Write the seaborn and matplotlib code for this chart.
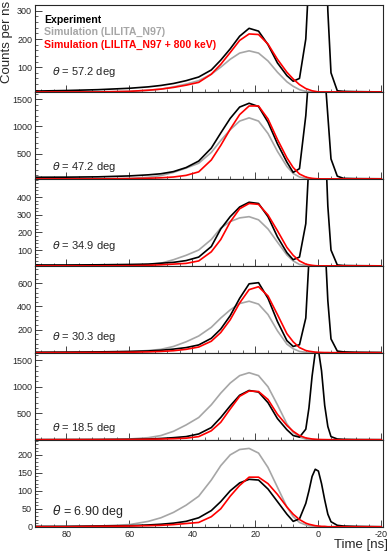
import numpy as np
import pandas as pd
import seaborn as sns
import matplotlib.pyplot as plt
from matplotlib.ticker import MultipleLocator

# time bins (ns)
time_ns = [90, 80, 70, 60, 54, 50, 46, 42, 38, 34, 31, 28, 25, 22, 19, 16, 13, 10, 8, 6,
           4, 3, 2, 1, 0, -1, -2, -3, -4, -6, -8, -12, -20]

angles = ["57.2", "47.2", "34.9", "30.3", "18.5", "6.90"]

# theta = 57.2 deg
exp_57 = [15, 17, 20, 25, 30, 35, 42, 52, 65, 90, 125, 165, 210, 238, 228, 180, 115, 70, 50, 60,
          200, 420, 800, 1000, 1000, 900, 700, 300, 80, 16, 14, 13, 12]
sim_57 = [12, 12, 12, 14, 18, 22, 30, 40, 52, 75, 100, 128, 150, 158, 150, 122, 82, 48, 32, 20,
          14, 13, 12, 12, 12, 12, 12, 12, 12, 12, 12, 12, 12]
sim800_57 = [12, 12, 12, 14, 18, 22, 28, 36, 46, 75, 110, 152, 195, 218, 216, 182, 128, 82, 58, 38,
             24, 20, 16, 14, 12, 12, 12, 12, 12, 12, 12, 12, 12]

# theta = 47.2 deg
exp_47 = [60, 62, 68, 85, 105, 125, 165, 240, 360, 600, 880, 1150, 1360, 1430, 1370, 1080, 680, 340, 150, 220,
          1200, 2000, 2600, 2800, 2800, 2600, 2000, 1200, 400, 80, 40, 35, 32]
sim_47 = [30, 30, 32, 40, 60, 90, 150, 230, 320, 520, 740, 940, 1100, 1160, 1100, 870, 540, 260, 130, 65,
          38, 34, 32, 30, 30, 30, 30, 30, 30, 30, 30, 30, 30]
sim800_47 = [30, 30, 30, 35, 42, 50, 65, 95, 160, 380, 650, 950, 1220, 1380, 1380, 1140, 760, 420, 240, 120,
             65, 50, 40, 35, 32, 30, 30, 30, 30, 30, 30, 30, 30]

# theta = 34.9 deg
exp_35 = [15, 15, 16, 18, 20, 25, 30, 40, 60, 120, 220, 290, 345, 372, 365, 290, 175, 85, 45, 60,
          250, 600, 1000, 1200, 1200, 1100, 800, 350, 100, 15, 12, 11, 10]
sim_35 = [10, 10, 10, 12, 18, 25, 45, 70, 100, 160, 225, 262, 283, 290, 272, 220, 145, 72, 38, 18,
          12, 11, 10, 10, 10, 10, 10, 10, 10, 10, 10, 10, 10]
sim800_35 = [10, 10, 10, 11, 13, 16, 20, 24, 38, 90, 160, 260, 335, 365, 360, 300, 210, 115, 70, 38,
             20, 16, 13, 11, 10, 10, 10, 10, 10, 10, 10, 10, 10]

# theta = 30.3 deg
exp_30 = [5, 6, 8, 12, 16, 22, 32, 45, 68, 125, 205, 320, 470, 595, 605, 470, 270, 105, 55, 70,
          300, 800, 1400, 1700, 1700, 1500, 1000, 450, 120, 15, 8, 5, 3]
sim_30 = [2, 3, 5, 10, 20, 30, 55, 95, 145, 220, 300, 370, 425, 445, 420, 330, 190, 75, 35, 12,
          5, 3, 2, 2, 2, 1, 1, 1, 1, 1, 1, 1, 1]
sim800_30 = [1, 2, 3, 5, 8, 12, 18, 30, 50, 100, 175, 285, 430, 545, 570, 490, 330, 165, 95, 45,
             20, 14, 10, 6, 4, 3, 2, 2, 1, 1, 1, 1, 1]

# theta = 18.5 deg
exp_18 = [3, 4, 5, 8, 15, 25, 40, 60, 110, 230, 420, 640, 840, 930, 900, 700, 400, 190, 80, 50,
          200, 600, 1200, 1650, 1700, 1300, 650, 250, 60, 15, 8, 4, 2]
sim_18 = [2, 3, 5, 15, 40, 80, 160, 280, 420, 660, 880, 1070, 1210, 1265, 1210, 1000, 660, 300, 140, 50,
          15, 8, 5, 3, 2, 1, 1, 1, 1, 1, 1, 1, 1]
sim800_18 = [1, 2, 3, 5, 10, 14, 20, 30, 60, 170, 330, 580, 820, 920, 910, 760, 480, 270, 160, 80,
             35, 25, 15, 10, 6, 4, 3, 2, 2, 1, 1, 1, 1]

# theta = 6.90 deg
exp_7 = [1, 1, 2, 3, 5, 7, 10, 15, 25, 45, 70, 100, 122, 132, 130, 105, 70, 35, 15, 22,
         65, 100, 140, 160, 155, 120, 75, 35, 14, 4, 2, 1, 0]
sim_7 = [0, 1, 2, 6, 15, 25, 40, 60, 85, 130, 170, 200, 215, 218, 205, 165, 110, 55, 28, 12,
         5, 3, 2, 1, 1, 0, 0, 0, 0, 0, 0, 0, 0]
sim800_7 = [0, 0, 1, 2, 3, 4, 6, 9, 12, 28, 50, 85, 115, 138, 138, 120, 90, 55, 35, 20,
            10, 7, 5, 3, 2, 1, 1, 0, 0, 0, 0, 0, 0]

panels = [
    (exp_57, sim_57, sim800_57),
    (exp_47, sim_47, sim800_47),
    (exp_35, sim_35, sim800_35),
    (exp_30, sim_30, sim800_30),
    (exp_18, sim_18, sim800_18),
    (exp_7, sim_7, sim800_7),
]

# layout of each pad
ylims = [(12, 321), (30, 1640), (10, 505), (0, 750), (0, 1640), (0, 242)]
yticks = [[100, 200, 300], [500, 1000, 1500], [100, 200, 300, 400], [200, 400, 600],
          [500, 1000, 1500], [0, 50, 100, 150, 200]]
yminor = [20, 100, 20, 40, 100, 10]
label_y = [0.23, 0.14, 0.23, 0.18, 0.14, 0.18]
label_size = [8, 8, 8, 8, 8, 9]

sns.set_theme(style="ticks")
plt.rcParams['font.family'] = ['Liberation Sans', 'DejaVu Sans']
plt.rcParams['mathtext.fontset'] = 'dejavusans'

palette = {"sim": "#a6a6a6", "exp": "#000000", "sim800": "#ff0000"}

fig, axes = plt.subplots(6, 1, figsize=(3.88, 5.51), dpi=100, sharex=True)
fig.subplots_adjust(left=0.09, right=0.987, top=0.991, bottom=0.044, hspace=0)

for i, ax in enumerate(axes):
    e, s, r = panels[i]
    df = pd.DataFrame({
        "time": time_ns * 3,
        "counts": s + e + r,
        "series": ["sim"] * len(time_ns) + ["exp"] * len(time_ns) + ["sim800"] * len(time_ns),
    })
    sns.lineplot(data=df, x="time", y="counts", hue="series", palette=palette,
                 hue_order=["sim", "exp", "sim800"], linewidth=1.2, legend=False,
                 sort=False, estimator=None, ax=ax)
    ax.set_xlim(90, -20.5)
    ax.set_ylim(*ylims[i])
    ax.set_xlabel("")
    ax.set_ylabel("")
    ax.set_yticks(yticks[i])
    ax.yaxis.set_minor_locator(MultipleLocator(yminor[i]))
    ax.xaxis.set_major_locator(MultipleLocator(20))
    ax.xaxis.set_minor_locator(MultipleLocator(4))
    ax.tick_params(which="major", direction="in", length=5, width=0.6, labelsize=6.5, pad=2)
    ax.tick_params(which="minor", direction="in", length=2.5, width=0.5)
    for sp in ax.spines.values():
        sp.set_linewidth(0.8)
    ax.text(0.05, label_y[i], r"$\theta$ = " + angles[i] + " deg", transform=ax.transAxes,
            fontsize=label_size[i], va="center", ha="left")

axes[-1].set_xticks([80, 60, 40, 20, 0, -20])
axes[-1].set_xticklabels(["80", "60", "40", "20", "0", "-20"])

ax0 = axes[0]
ax0.text(0.026, 0.83, "Experiment", color="black", fontweight="bold", fontsize=7.6,
         transform=ax0.transAxes, va="center")
ax0.text(0.026, 0.69, "Simulation (LILITA_N97)", color="#a6a6a6", fontweight="bold", fontsize=7.6,
         transform=ax0.transAxes, va="center")
ax0.text(0.026, 0.545, "Simulation (LILITA_N97 + 800 keV)", color="#ff0000", fontweight="bold",
         fontsize=7.6, transform=ax0.transAxes, va="center")

fig.text(0.002, 0.998, "Counts per ns", rotation=90, ha="left", va="top", fontsize=9.5)
fig.text(1.0, 0.0, "Time [ns]", ha="right", va="bottom", fontsize=9.5)

fig.savefig("out.png", dpi=100)
